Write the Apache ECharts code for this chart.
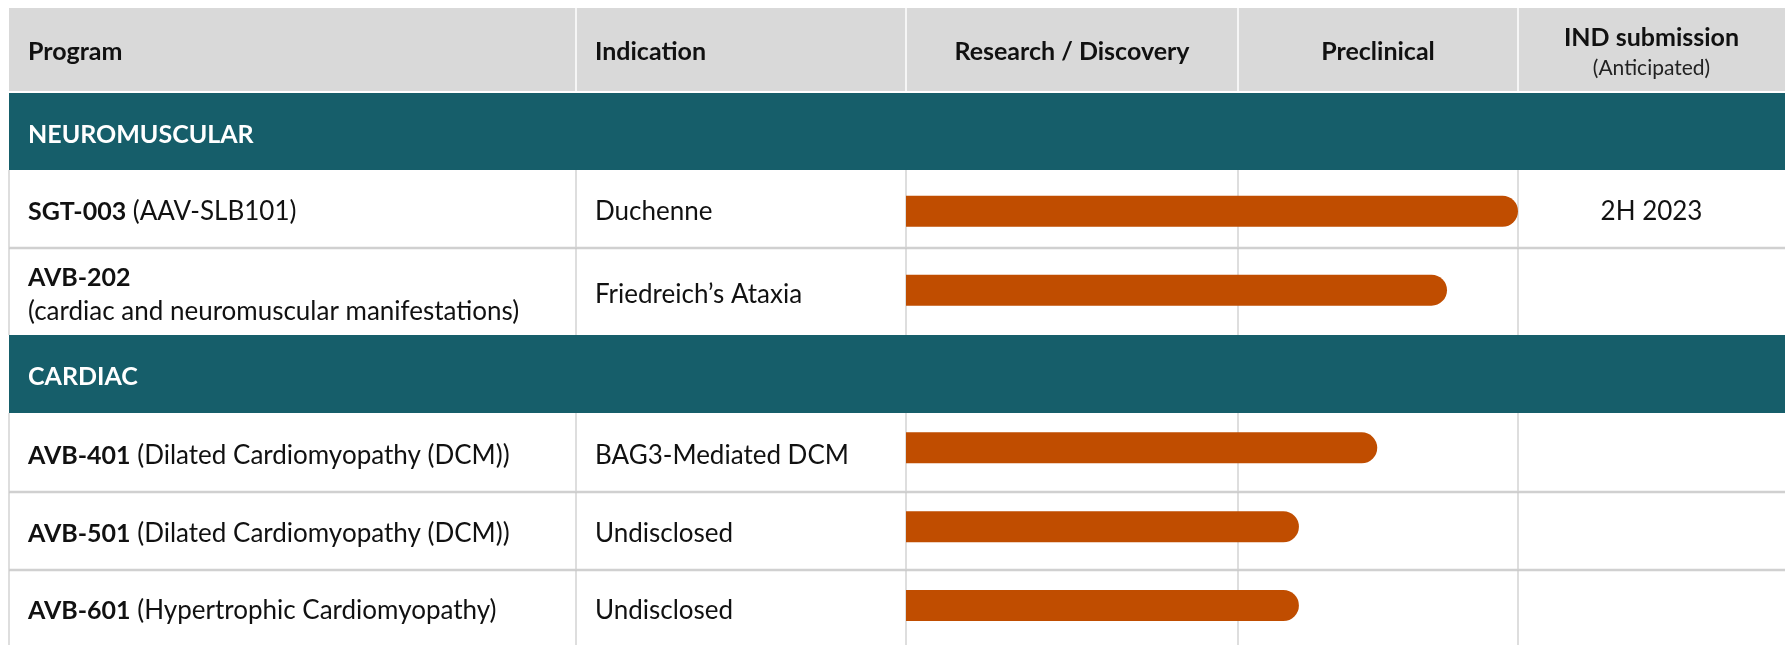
<!DOCTYPE html>
<html>
<head>
<meta charset="utf-8">
<script src="https://cdn.jsdelivr.net/npm/echarts@6/dist/echarts.min.js"></script>
<style>
  html, body { margin: 0; padding: 0; background: #fff; }
  #chart { width: 1785px; height: 645px; }
</style>
</head>
<body>
<div id="chart"></div>
<script>
// rows of the table, section bands included
const categories = ['NEUROMUSCULAR', 'SGT-003', 'AVB-202', 'CARDIAC', 'AVB-401', 'AVB-501', 'AVB-601']
const isSection = [true, false, false, true, false, false, false]
const programNotes = ['', '(AAV-SLB101)', '(cardiac and neuromuscular manifestations)', '', '(Dilated Cardiomyopathy (DCM))', '(Dilated Cardiomyopathy (DCM))', '(Hypertrophic Cardiomyopathy)']
const indications = ['', 'Duchenne', 'Friedreich\u2019s Ataxia', '', 'BAG3-Mediated DCM', 'Undisclosed', 'Undisclosed']
// progress through Research + Preclinical, in % of the two columns together
const progress = [null, 100, 88.4, null, 77, 64.2, 64.2]
const indDates = ['', '2H 2023', '', '', '', '', '']
const headers = ['Program', 'Indication', 'Research / Discovery', 'Preclinical', 'IND submission']
const headerNote = '(Anticipated)'

const FONT = 'Lato'
const TEAL = '#165E6A'
const ORANGE = '#C04D00'
const cols = [9, 576, 906, 1238, 1518, 1785]
// row boundaries (px) for the body rows, bands included
const rowEdges = [93, 170, 248, 335, 413, 492, 570, 645]
const TEXT_DY = 3

const graphics = []

// header
graphics.push({ type: 'rect', z: 0, shape: { x: cols[0], y: 8, width: 1785 - cols[0], height: 83 }, style: { fill: '#D9D9D9' } })
for (let c = 1; c < 5; c++) {
  graphics.push({ type: 'line', z: 1, shape: { x1: cols[c], y1: 8, x2: cols[c], y2: 91 }, style: { stroke: '#fff', lineWidth: 1.5 } })
}
headers.forEach((h, i) => {
  const left = i < 2
  const x = left ? cols[i] + 19 : (cols[i] + cols[i + 1]) / 2
  const y = i === 4 ? 38 : 52
  graphics.push({
    type: 'text', z: 2, x: x, y: y,
    style: { text: h, font: 'bold 25px ' + FONT, fill: '#111', textAlign: left ? 'left' : 'center', textVerticalAlign: 'middle' }
  })
})
graphics.push({
  type: 'text', z: 2, x: (cols[4] + cols[5]) / 2, y: 68,
  style: { text: headerNote, font: '21px ' + FONT, fill: '#222', textAlign: 'center', textVerticalAlign: 'middle' }
})

// body rows
categories.forEach((name, i) => {
  const top = rowEdges[i]
  const bot = rowEdges[i + 1]
  const mid = (top + bot) / 2 + TEXT_DY
  if (isSection[i]) {
    graphics.push({ type: 'rect', z: 0, shape: { x: cols[0], y: top, width: 1785 - cols[0], height: bot - top }, style: { fill: TEAL } })
    graphics.push({
      type: 'text', z: 2, x: cols[0] + 19, y: mid,
      style: { text: name, font: 'bold 25px ' + FONT, fill: '#fff', textVerticalAlign: 'middle' }
    })
    return
  }
  for (let c = 0; c < 5; c++) {
    graphics.push({ type: 'line', z: 1, shape: { x1: cols[c], y1: top, x2: cols[c], y2: bot }, style: { stroke: '#C8C8C8', lineWidth: 1.2 } })
  }
  if (!isSection[i + 1] && i + 1 < categories.length) {
    graphics.push({ type: 'line', z: 1, shape: { x1: cols[0], y1: bot, x2: 1785, y2: bot }, style: { stroke: '#D0D0D0', lineWidth: 2.5 } })
  }
  const twoLine = programNotes[i].length > 32
  graphics.push({
    type: 'text', z: 2, x: cols[0] + 19, y: mid,
    style: {
      text: '{b|' + name + '}' + (twoLine ? '\n' : ' ') + programNotes[i],
      font: '26px ' + FONT, fill: '#111', textVerticalAlign: 'middle', lineHeight: 34,
      rich: { b: { fontWeight: 'bold', fontSize: 25, fontFamily: FONT, fill: '#111', lineHeight: 34 } }
    }
  })
  graphics.push({
    type: 'text', z: 2, x: cols[1] + 19, y: mid,
    style: { text: indications[i], font: '26px ' + FONT, fill: '#111', textVerticalAlign: 'middle' }
  })
  if (indDates[i]) {
    graphics.push({
      type: 'text', z: 2, x: (cols[4] + cols[5]) / 2, y: mid,
      style: { text: indDates[i], font: '26px ' + FONT, fill: '#111', textAlign: 'center', textVerticalAlign: 'middle' }
    })
  }
})

const option = {
  animation: false,
  backgroundColor: '#fff',
  grid: { left: cols[2], width: cols[4] - cols[2], top: rowEdges[0], height: 645 - rowEdges[0] },
  xAxis: { type: 'value', min: 0, max: 100, show: false },
  yAxis: { type: 'category', data: categories, inverse: true, show: false },
  graphic: graphics,
  series: [
    {
      type: 'bar',
      data: progress,
      barWidth: 31,
      z: 5,
      itemStyle: { color: ORANGE, borderRadius: [0, 16, 16, 0] }
    }
  ]
}

const chart = echarts.init(document.getElementById('chart'))
chart.setOption(option)
</script>
</body>
</html>
